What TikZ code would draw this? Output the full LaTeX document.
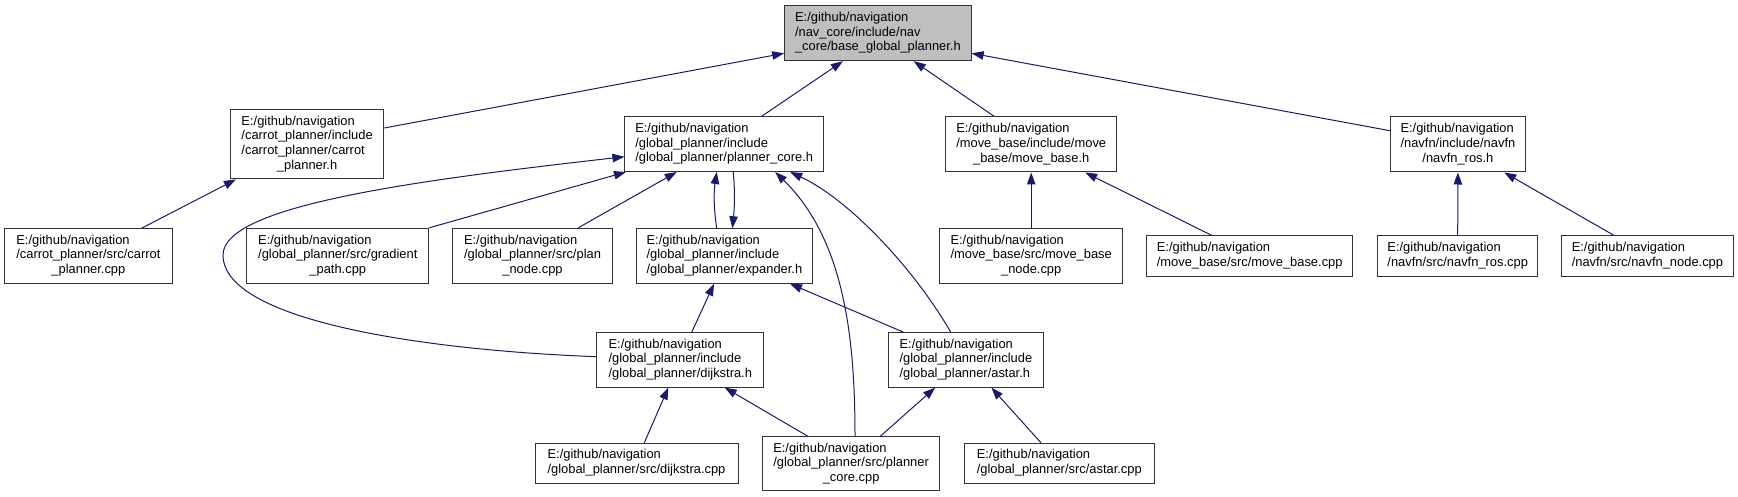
\documentclass[tikz,border=0pt]{standalone}
\usepackage{fontspec}
\setmainfont{Liberation Sans}
\usetikzlibrary{arrows.meta}
\definecolor{edgec}{HTML}{191970}
\definecolor{basefill}{HTML}{BFBFBF}
\definecolor{boxline}{HTML}{333333}
\newcommand{\lc}[1]{\multicolumn{1}{@{}c@{}}{#1}}
\newcommand{\tb}[1]{\begin{tabular}{@{}l@{}}#1\end{tabular}}
\begin{document}
\begin{tikzpicture}[x=1pt,y=-1pt,
  nbox/.style={draw=boxline, line width=1pt, fill=white, inner sep=0pt,
    font=\fontsize{12.9}{14.6}\selectfont},
  edge/.style={draw=edgec, line width=1pt, -{Triangle[length=12pt,width=8.5pt]}},
]
\useasboundingbox[fill=white] (0,0) rectangle (1738,497);

% nodes
\node[nbox, fill=basefill, minimum width=186.4pt, minimum height=55pt] (base) at (877.9,33.2)
  {\tb{E:/github/navigation\\/nav\_core/include/nav\\\_core/base\_global\_planner.h}};
\node[nbox, minimum width=153.4pt, minimum height=69.3pt] (ch) at (307.1,144.3)
  {\tb{E:/github/navigation\\/carrot\_planner/include\\/carrot\_planner/carrot\\\lc{\_planner.h}}};
\node[nbox, minimum width=198.5pt, minimum height=54.8pt] (pch) at (724.2,144.1)
  {\tb{E:/github/navigation\\/global\_planner/include\\/global\_planner/planner\_core.h}};
\node[nbox, minimum width=170.7pt, minimum height=55pt] (mbh) at (1031.2,144.5)
  {\tb{E:/github/navigation\\/move\_base/include/move\\\lc{\_base/move\_base.h}}};
\node[nbox, minimum width=135pt, minimum height=55pt] (nrh) at (1457.9,144.5)
  {\tb{E:/github/navigation\\/navfn/include/navfn\\\lc{/navfn\_ros.h}}};

\node[nbox, minimum width=167.6pt, minimum height=54.6pt] (ccpp) at (88.4,256)
  {\tb{E:/github/navigation\\/carrot\_planner/src/carrot\\\lc{\_planner.cpp}}};
\node[nbox, minimum width=182pt, minimum height=55pt] (grad) at (337.8,255.8)
  {\tb{E:/github/navigation\\/global\_planner/src/gradient\\\lc{\_path.cpp}}};
\node[nbox, minimum width=159.6pt, minimum height=55pt] (pnode) at (532.5,255.8)
  {\tb{E:/github/navigation\\/global\_planner/src/plan\\\lc{\_node.cpp}}};
\node[nbox, minimum width=176.8pt, minimum height=54.5pt] (exp) at (724.4,256)
  {\tb{E:/github/navigation\\/global\_planner/include\\/global\_planner/expander.h}};
\node[nbox, minimum width=182.9pt, minimum height=54.6pt] (mbn) at (1031.2,256)
  {\tb{E:/github/navigation\\/move\_base/src/move\_base\\\lc{\_node.cpp}}};
\node[nbox, minimum width=206.5pt, minimum height=40pt] (mbc) at (1249.7,256)
  {\tb{E:/github/navigation\\/move\_base/src/move\_base.cpp}};
\node[nbox, minimum width=160.1pt, minimum height=40pt] (nrc) at (1457.7,256)
  {\tb{E:/github/navigation\\/navfn/src/navfn\_ros.cpp}};
\node[nbox, minimum width=171.3pt, minimum height=40pt] (nnc) at (1647.4,256)
  {\tb{E:/github/navigation\\/navfn/src/navfn\_node.cpp}};

\node[nbox, minimum width=166.9pt, minimum height=54.3pt] (dh) at (680.3,359.9)
  {\tb{E:/github/navigation\\/global\_planner/include\\/global\_planner/dijkstra.h}};
\node[nbox, minimum width=155pt, minimum height=54.5pt] (ah) at (965.9,359.9)
  {\tb{E:/github/navigation\\/global\_planner/include\\/global\_planner/astar.h}};

\node[nbox, minimum width=203pt, minimum height=40pt] (dc) at (636.5,463.3)
  {\tb{E:/github/navigation\\/global\_planner/src/dijkstra.cpp}};
\node[nbox, minimum width=177.2pt, minimum height=54pt] (pcc) at (851.1,463.7)
  {\tb{E:/github/navigation\\/global\_planner/src/planner\\\lc{\_core.cpp}}};
\node[nbox, minimum width=189.4pt, minimum height=40pt] (ac) at (1059.3,463.3)
  {\tb{E:/github/navigation\\/global\_planner/src/astar.cpp}};

% edges
\draw[edge] ([yshift=16.3pt]ch.east) -- ([yshift=-20.1pt]base.west);
\draw[edge] ([xshift=37.6pt]pch.north) -- ([xshift=-35pt]base.south);
\draw[edge] ([xshift=-36.8pt]mbh.north) -- ([xshift=35.8pt]base.south);
\draw[edge] ([yshift=13.8pt]nrh.west) -- ([yshift=-20.1pt]base.east);

\draw[edge] ([xshift=53.2pt]ccpp.north) -- ([xshift=6pt]ch.south west);
\draw[edge] (grad.north east) -- ([xshift=1.5pt]pch.south west);
\draw[edge] ([xshift=45.8pt]pnode.north) -- ([xshift=-47.5pt]pch.south);
\draw[edge] ([xshift=-7.7pt]exp.north) .. controls +(-3,-20) and +(-3,20) .. ([xshift=-7.5pt]pch.south);
\draw[edge] ([xshift=9pt]pch.south) .. controls +(2,20) and +(2,-20) .. ([xshift=8pt]exp.north);
\draw[edge] ([yshift=3.2pt]dh.west) .. controls (420,350) and (223,320) .. (223,255)
  .. controls (223,205) and (420,180) .. ([yshift=-12.6pt]pch.west);
\draw[edge] ([xshift=3.9pt]pcc.north) .. controls (855,340) and (845,240) .. ([xshift=51pt]pch.south);
\draw[edge] ([xshift=-15.2pt]ah.north) .. controls (915,270) and (850,200) .. ([xshift=66pt]pch.south);

\draw[edge] ([xshift=11.4pt]dh.north) -- ([xshift=-10.4pt]exp.south);
\draw[edge] ([xshift=-62.5pt]ah.north) -- ([xshift=65.6pt]exp.south);

\draw[edge] ([xshift=7.8pt]dc.north) -- ([xshift=-12pt]dh.south);
\draw[edge] ([xshift=-43.4pt]pcc.north) -- ([xshift=44.4pt]dh.south);
\draw[edge] ([xshift=29.3pt]pcc.north) -- ([xshift=-30.8pt]ah.south);
\draw[edge] ([xshift=-18.3pt]ac.north) -- ([xshift=25.5pt]ah.south);

\draw[edge] (mbn.north) -- (mbh.south);
\draw[edge] ([xshift=-37.8pt]mbc.north) -- ([xshift=54pt]mbh.south);
\draw[edge] (nrc.north) -- (nrh.south);
\draw[edge] ([xshift=-33.2pt]nnc.north) -- ([xshift=46.4pt]nrh.south);
\end{tikzpicture}
\end{document}
